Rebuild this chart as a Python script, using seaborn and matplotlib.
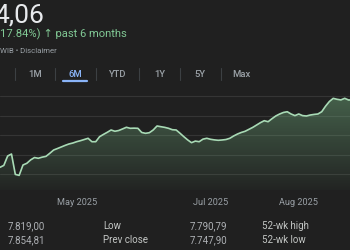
import numpy as np
import pandas as pd
import matplotlib
matplotlib.use("Agg")
import matplotlib.pyplot as plt
import seaborn as sns

# ---- data ----
trading_day = list(range(0, 93))
index_value = [6181, 6230, 6470, 6520, 6000, 5975, 6240, 6283, 6370, 6430,
               6411, 6440, 6460, 6538, 6622, 6660, 6700, 6740, 6776, 6800,
               6834, 6860, 6890, 6921, 6834, 6834, 6962, 7020, 7074, 7133,
               7100, 7120, 7160, 7202, 7176, 7180, 7176, 7070, 7048, 7064,
               7133, 7235, 7217, 7200, 7176, 7140, 7133, 7050, 6962, 6880,
               6809, 6850, 6834, 6900, 6921, 6895, 6880, 6870, 6878, 6890,
               6921, 6980, 7030, 7070, 7100, 7150, 7200, 7260, 7320, 7370,
               7344, 7420, 7490, 7540, 7580, 7599, 7541, 7500, 7541, 7500,
               7490, 7515, 7530, 7541, 7599, 7740, 7860, 7940, 7916, 7900,
               7941, 7898, 7900]
grid_levels = [6000, 6500, 7000, 7500, 8000]
month_tick_days = [20, 55, 78]
month_labels = ["May 2025", "Jul 2025", "Aug 2025"]

title_value = "4,06"
change_text = "17.84%) \u2191 past 6 months"
subtitle = "WIB \u2022 Disclaimer"
tabs = ["1M", "6M", "YTD", "1Y", "5Y", "Max"]
active_tab = "6M"
stat_values_row1 = ["7.819,00", "7.790,79"]
stat_labels_row1 = ["Low", "52-wk high"]
stat_values_row2 = ["7.854,81", "7.747,90"]
stat_labels_row2 = ["Prev close", "52-wk low"]

df = pd.DataFrame({"day": trading_day, "value": index_value})

BG = "#202020"
W, H = 350, 250

sns.set_theme(style="dark", rc={"axes.facecolor": BG, "figure.facecolor": BG})
plt.rcParams["font.family"] = ["Roboto", "DejaVu Sans"]

fig = plt.figure(figsize=(3.5, 2.5), dpi=100)
fig.patch.set_facecolor(BG)

def px(x, y):
    return x / W, 1 - y / H

# axes placement (pixel space)
ax_top, ax_bot = 88, 190
ax = fig.add_axes([0, 1 - ax_bot / H, 1, (ax_bot - ax_top) / H])
ax.set_facecolor(BG)

ppx = (8000 - 6000) / (174.4 - 96.0)  # value per pixel
ymax = 8000 + (96.0 - ax_top) * ppx
ymin = 6000 - (ax_bot - 174.4) * ppx
xmax = W / 3.83

for g in grid_levels:
    ax.axhline(g, color="#353535", lw=0.8, zorder=0)

# gradient fill under line
poly = ax.fill_between(df["day"], df["value"], ymin, color="none", lw=0)
alpha = np.linspace(0.03, 0.42, 256).reshape(-1, 1)
rgba = np.zeros((256, 1, 4))
rgba[..., 0] = 0.50
rgba[..., 1] = 0.78
rgba[..., 2] = 0.56
rgba[..., 3] = alpha
img = ax.imshow(rgba, extent=[0, xmax, ymin, ymax], origin="lower",
                aspect="auto", zorder=1)
img.set_clip_path(poly.get_paths()[0], transform=ax.transData)

sns.lineplot(data=df, x="day", y="value", ax=ax, color="#a8dab5", lw=1.2,
             zorder=3)

ax.set_xlim(0, xmax)
ax.set_ylim(ymin, ymax)
ax.set_yticks([])
ax.set_xticks(month_tick_days)
ax.set_xticklabels(month_labels)
ax.tick_params(axis="x", length=0, pad=6, labelsize=6.6, labelcolor="#9aa0a6")
ax.set_xlabel("")
ax.set_ylabel("")
ax.grid(False)
for s in ax.spines.values():
    s.set_visible(False)

# header texts
fig.text(*px(-6, 22), title_value, fontsize=19, color="#e8eaed",
         ha="left", va="baseline")
fig.text(*px(0, 37.7), change_text, fontsize=8.1, color="#81c995",
         ha="left", va="baseline")
fig.text(*px(0, 53), subtitle, fontsize=5.6, color="#9aa0a6",
         ha="left", va="baseline")

tab_centers = [35, 75, 117, 160, 199.5, 241.5]
for lab, cx in zip(tabs, tab_centers):
    col = "#8ab4f8" if lab == active_tab else "#9aa0a6"
    fig.text(*px(cx, 77), lab, fontsize=6.8, color=col, ha="center",
             va="baseline", fontweight="medium")
for sx in [15, 55, 96, 139, 180, 221]:
    fig.add_artist(plt.Line2D([sx / W, sx / W], [1 - 68 / H, 1 - 80 / H],
                              transform=fig.transFigure, color="#3c4043",
                              lw=0.8))
fig.add_artist(plt.Line2D([63 / W, 87 / W], [1 - 81 / H, 1 - 81 / H],
                          transform=fig.transFigure, color="#8ab4f8", lw=1.6,
                          solid_capstyle="round"))

# stats rows
val_right = [45, 227]
lab_left = [103, 262]
for row_y, vals, labs in [(229.3, stat_values_row1, stat_labels_row1),
                          (243.3, stat_values_row2, stat_labels_row2)]:
    for v, xr in zip(vals, val_right):
        fig.text(*px(xr, row_y), v, fontsize=7, color="#aeb1b5",
                 ha="right", va="baseline")
    for l, xl in zip(labs, lab_left):
        fig.text(*px(xl, row_y), l, fontsize=7, color="#c4c7c5",
                 ha="left", va="baseline")

fig.savefig("out.png", dpi=100, facecolor=BG)
